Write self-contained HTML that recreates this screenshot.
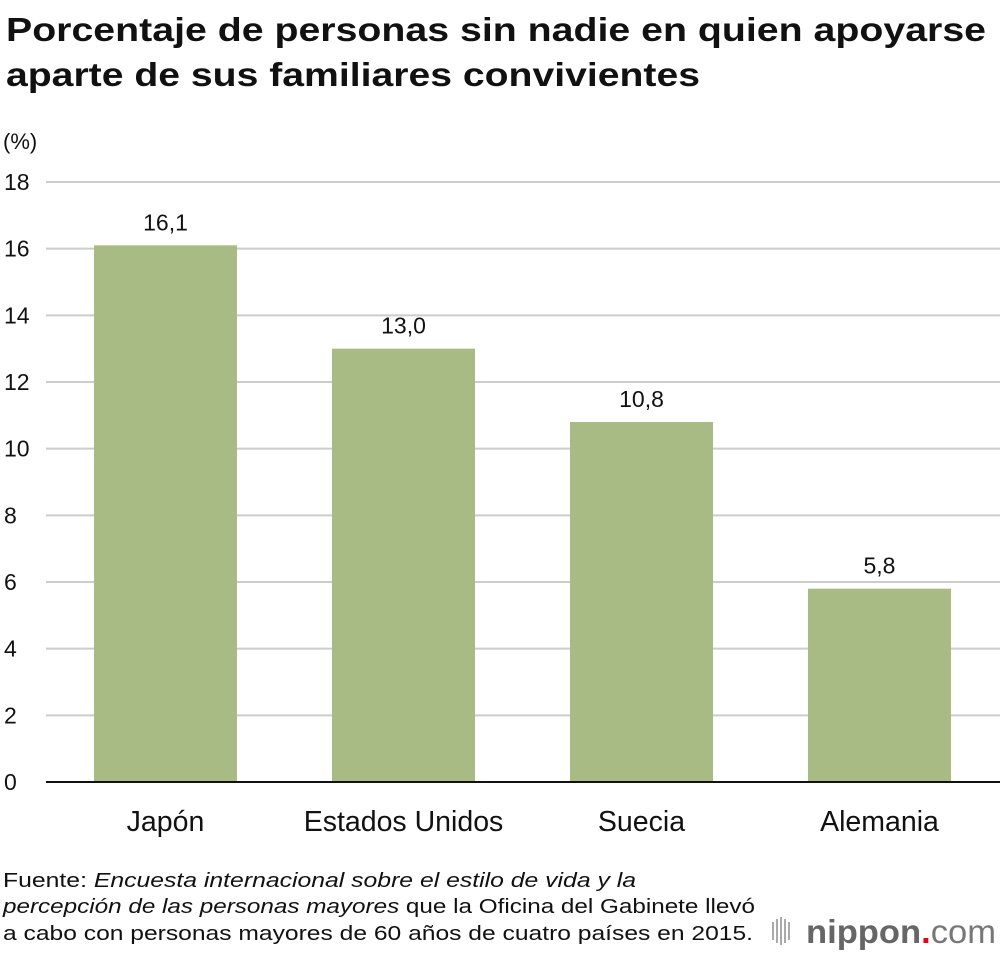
<!DOCTYPE html>
<html><head><meta charset="utf-8"><style>
body{margin:0;background:#fff;width:1000px;height:954px;overflow:hidden;font-family:"Liberation Sans",sans-serif}
svg text{font-family:"Liberation Sans",sans-serif}
</style></head><body>
<svg id="c" width="1000" height="954" xmlns="http://www.w3.org/2000/svg">
<text x="6" y="41" font-size="33" font-weight="bold" fill="#111" textLength="980" lengthAdjust="spacingAndGlyphs">Porcentaje de personas sin nadie en quien apoyarse</text>
<text x="6" y="86" font-size="33" font-weight="bold" fill="#111" textLength="694" lengthAdjust="spacingAndGlyphs">aparte de sus familiares convivientes</text>
<text x="3" y="149" font-size="22" fill="#111">(%)</text>
<g id="grid"></g><g id="bars"></g><g id="labels"></g>
<text x="3" y="887" font-size="20" fill="#111" textLength="633" lengthAdjust="spacingAndGlyphs">Fuente: <tspan font-style="italic">Encuesta internacional sobre el estilo de vida y la</tspan></text>
<text x="3" y="913" font-size="20" fill="#111" textLength="752" lengthAdjust="spacingAndGlyphs"><tspan font-style="italic">percepción de las personas mayores</tspan> que la Oficina del Gabinete llevó</text>
<text x="3" y="940" font-size="20" fill="#111" textLength="750" lengthAdjust="spacingAndGlyphs">a cabo con personas mayores de 60 años de cuatro países en 2015.</text>
<g>
<g fill="#aaa"><rect x="772" y="922" width="2" height="18"/><rect x="776" y="919" width="2" height="24"/><rect x="780" y="917" width="2" height="28"/><rect x="784" y="919" width="2" height="24"/><rect x="788" y="922" width="2" height="18"/></g>
<text x="806" y="943" font-size="33" font-weight="bold" fill="#666" textLength="190" lengthAdjust="spacingAndGlyphs">nippon<tspan fill="#e60012">.</tspan><tspan font-weight="normal" fill="#777">com</tspan></text>
</g>
</svg>
<script>
const categories=["Japón","Estados Unidos","Suecia","Alemania"];
const values=[16.1,13.0,10.8,5.8];
const valueLabels=["16,1","13,0","10,8","5,8"];
const yTicks=[0,2,4,6,8,10,12,14,16,18];
const NS="http://www.w3.org/2000/svg";
const y=v=>782-v*600/18;
const band=238, x0=46, bw=143;
const xc=i=>165.5+i*band;
function mk(t,a,p){const e=document.createElementNS(NS,t);for(const k in a)e.setAttribute(k,a[k]);p.appendChild(e);return e;}
const g=document.getElementById('grid'),b=document.getElementById('bars'),l=document.getElementById('labels');
yTicks.forEach(t=>{
 const ln=mk('line',{x1:x0,x2:1000,y1:y(t),y2:y(t),stroke:t===0?'#111':'#ccc','stroke-width':2},g);
 
 
 const tx=mk('text',{x:4,y:y(t)+8,'font-size':23,fill:'#111'},g);tx.textContent=t;
 
 
});
values.forEach((v,i)=>{
 const r=mk('rect',{x:xc(i)-bw/2,y:y(v),width:bw,height:y(0)-y(v)-1,fill:'#a9bb84'},b);
 
 
 const vl=mk('text',{x:xc(i),y:y(v)-15,'font-size':23,fill:'#111','text-anchor':'middle'},l);vl.textContent=valueLabels[i];
 
 
 const cl=mk('text',{x:xc(i),y:831,'font-size':28.5,fill:'#111','text-anchor':'middle'},l);cl.textContent=categories[i];
 
 
});
</script>
</body></html>
